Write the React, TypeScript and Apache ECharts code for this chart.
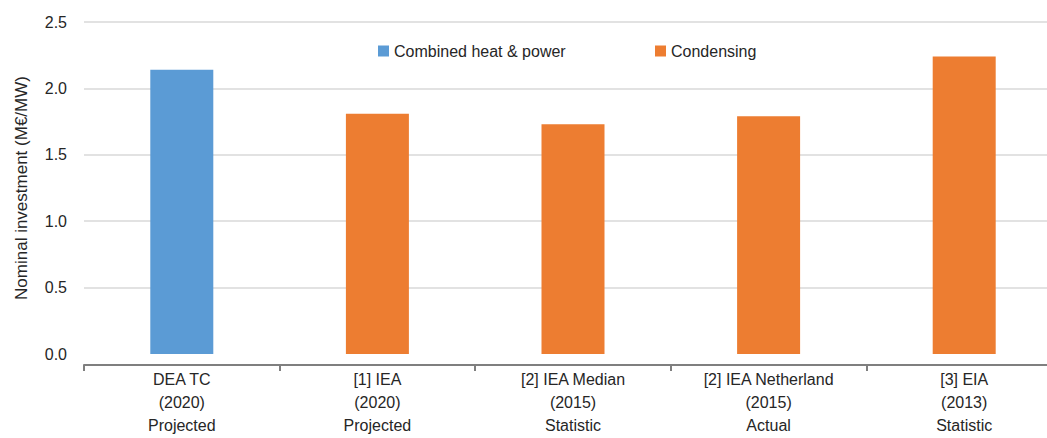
import React, { useEffect, useRef } from "react";
import * as echarts from "echarts";

const categories = [
  "DEA TC\n(2020)\nProjected",
  "[1] IEA\n(2020)\nProjected",
  "[2] IEA Median\n(2015)\nStatistic",
  "[2] IEA Netherland\n(2015)\nActual",
  "[3] EIA\n(2013)\nStatistic",
];
const chpValues: (number | string)[] = [2.14, "-", "-", "-", "-"];
const condensingValues: (number | string)[] = ["-", 1.81, 1.73, 1.79, 2.24];
const yTicks = { min: 0, max: 2.5, interval: 0.5 };

const FONT = "'Liberation Sans', Arial, sans-serif";

export default function App() {
  const ref = useRef<HTMLDivElement>(null);
  useEffect(() => {
    if (!ref.current) return;
    const chart = echarts.init(ref.current, undefined, { renderer: "svg" });
    chart.setOption({
      animation: false,
      textStyle: { fontFamily: FONT },
      legend: [
        {
          data: ["Combined heat & power"],
          left: 373,
          top: 38,
          itemWidth: 11,
          itemHeight: 11,
          itemGap: 8,
          icon: "rect",
          textStyle: { fontSize: 16, color: "#262626", fontFamily: FONT },
        },
        {
          data: ["Condensing"],
          left: 650,
          top: 38,
          itemWidth: 11,
          itemHeight: 11,
          icon: "rect",
          textStyle: { fontSize: 16, color: "#262626", fontFamily: FONT },
        },
      ],
      grid: {
        left: 84,
        right: 18,
        top: 22,
        bottom: 84,
        containLabel: false,
        outerBoundsMode: "none",
      },
      xAxis: {
        type: "category",
        data: categories,
        offset: 11,
        axisLine: { show: true, onZero: false, lineStyle: { color: "#7f7f7f", width: 2 } },
        axisTick: { show: true, length: 6, lineStyle: { color: "#7f7f7f", width: 2 } },
        axisLabel: {
          interval: 0,
          margin: 3,
          fontSize: 16,
          lineHeight: 23,
          color: "#262626",
          fontFamily: FONT,
        },
      },
      yAxis: {
        type: "value",
        min: yTicks.min,
        max: yTicks.max,
        interval: yTicks.interval,
        name: "Nominal investment (M€/MW)",
        nameLocation: "middle",
        nameGap: 54,
        nameTextStyle: { fontSize: 17, color: "#262626", fontFamily: FONT },
        axisLine: { show: false },
        axisTick: { show: false },
        axisLabel: {
          margin: 17,
          fontSize: 16,
          color: "#262626",
          fontFamily: FONT,
          formatter: (v: number) => v.toFixed(1),
        },
        splitLine: {
          show: true,
          showMinLine: false,
          lineStyle: { color: "#d9d9d9", width: 1.5 },
        },
      },
      series: [
        {
          name: "Combined heat & power",
          type: "bar",
          data: chpValues,
          barWidth: 63,
          barGap: "-100%",
          itemStyle: { color: "#5B9BD5" },
        },
        {
          name: "Condensing",
          type: "bar",
          data: condensingValues,
          barWidth: 63,
          barGap: "-100%",
          itemStyle: { color: "#ED7D31" },
        },
      ],
    });
    return () => chart.dispose();
  }, []);
  return (
    <div
      style={{
        position: "fixed",
        left: 0,
        top: 0,
        width: 1047,
        height: 438,
        overflow: "hidden",
        background: "#fff",
      }}
    >
      <div ref={ref} style={{ width: 1080, height: 438 }} />
    </div>
  );
}
